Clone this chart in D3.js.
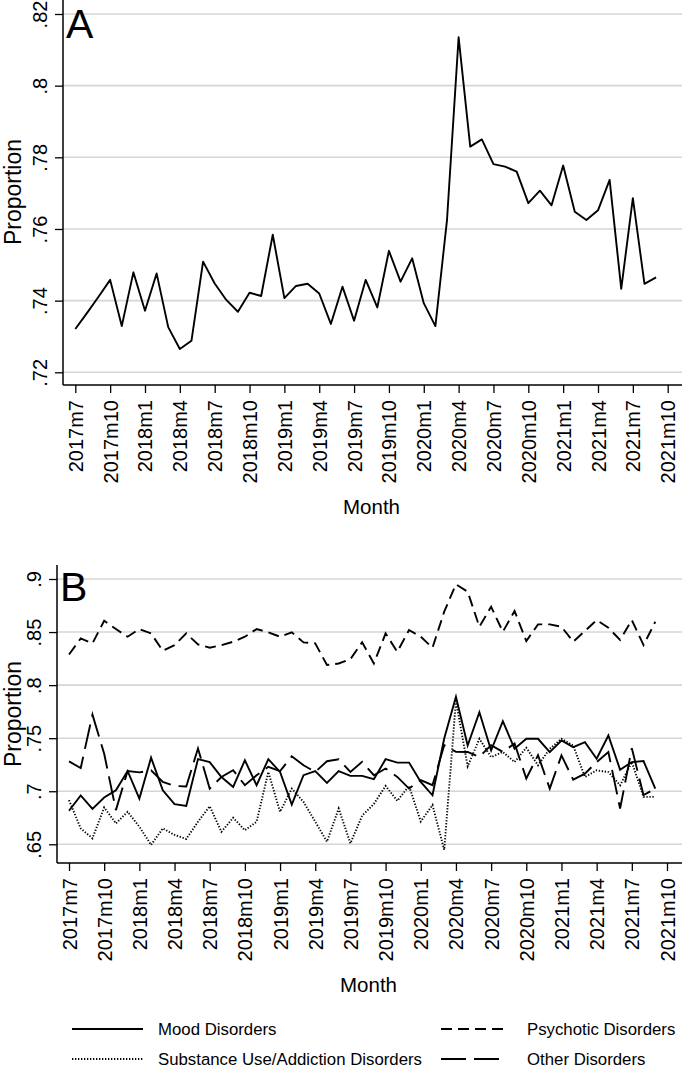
<!DOCTYPE html>
<html>
<head>
<meta charset="utf-8">
<script src="https://cdn.jsdelivr.net/npm/d3@7.9.0/dist/d3.min.js"></script>
<style>
  html, body { margin: 0; padding: 0; background: #fff; }
  svg { display: block; font-family: "Liberation Sans", Arial, sans-serif; }
</style>
</head>
<body>
<svg id="chart" width="682" height="1069"></svg>
<script>
// month index 0 = 2017m7 ... 50 = 2021m9
const tickLabels = ["2017m7", "2017m10", "2018m1", "2018m4", "2018m7", "2018m10",
  "2019m1", "2019m4", "2019m7", "2019m10", "2020m1", "2020m4", "2020m7", "2020m10",
  "2021m1", "2021m4", "2021m7", "2021m10"];

const ticksA = [0.72, 0.74, 0.76, 0.78, 0.8, 0.82];
const ticksB = [0.65, 0.7, 0.75, 0.8, 0.85, 0.9];

const overall = [0.7321, 0.7365, 0.7411, 0.7458, 0.7329, 0.7479, 0.7372, 0.7476, 0.7326, 0.7265,
  0.7288, 0.7509, 0.7448, 0.7402, 0.7369, 0.7422, 0.7413, 0.7584, 0.7407, 0.7441,
  0.7447, 0.7420, 0.7335, 0.7439, 0.7344, 0.7458, 0.7381, 0.7539, 0.7453, 0.7518,
  0.7393, 0.7329, 0.7625, 0.8135, 0.7830, 0.7850, 0.7781, 0.7774, 0.7760, 0.7672,
  0.7707, 0.7666, 0.7777, 0.7648, 0.7625, 0.7652, 0.7737, 0.7433, 0.7686, 0.7447, 0.7465];

const mood = [0.6816, 0.6960, 0.6834, 0.6941, 0.7009, 0.7191, 0.6931, 0.7316, 0.7009, 0.6878,
  0.6862, 0.7302, 0.7275, 0.7134, 0.7041, 0.7292, 0.7057, 0.7302, 0.7182, 0.6874,
  0.7151, 0.7189, 0.7079, 0.7189, 0.7145, 0.7145, 0.7113, 0.7302, 0.7270, 0.7270,
  0.7088, 0.6962, 0.7497, 0.7890, 0.7431, 0.7744, 0.7384, 0.7660, 0.7400, 0.7494,
  0.7494, 0.7369, 0.7478, 0.7416, 0.7463, 0.7306, 0.7525, 0.7203, 0.7275, 0.7284, 0.7025];

const psychotic = [0.8289, 0.8440, 0.8393, 0.8607, 0.8528, 0.8456, 0.8528, 0.8487, 0.8324, 0.8377,
  0.8487, 0.8384, 0.8352, 0.8377, 0.8409, 0.8456, 0.8528, 0.8497, 0.8456, 0.8497,
  0.8403, 0.8393, 0.8189, 0.8204, 0.8245, 0.8403, 0.8204, 0.8487, 0.8314, 0.8519,
  0.8456, 0.8352, 0.8692, 0.8950, 0.8880, 0.8550, 0.8739, 0.8503, 0.8698, 0.8415,
  0.8572, 0.8572, 0.8550, 0.8409, 0.8510, 0.8613, 0.8541, 0.8425, 0.8613, 0.8377, 0.8597];

const substance = [0.6916, 0.6650, 0.6556, 0.6847, 0.6697, 0.6806, 0.6666, 0.6494, 0.6650, 0.6588,
  0.6550, 0.6713, 0.6858, 0.6618, 0.6750, 0.6633, 0.6713, 0.7181, 0.6806, 0.7025,
  0.6900, 0.6713, 0.6525, 0.6837, 0.6509, 0.6770, 0.6880, 0.7050, 0.6910, 0.7050,
  0.6715, 0.6870, 0.6447, 0.7850, 0.7235, 0.7494, 0.7322, 0.7370, 0.7275, 0.7410,
  0.7244, 0.7400, 0.7494, 0.7431, 0.7134, 0.7197, 0.7181, 0.7056, 0.7275, 0.6947, 0.6947];

const other = [0.7281, 0.7219, 0.7722, 0.7353, 0.6822, 0.7191, 0.7178, 0.7197, 0.7088, 0.7050,
  0.7045, 0.7403, 0.7025, 0.7134, 0.7198, 0.7057, 0.7150, 0.7230, 0.7189, 0.7330,
  0.7245, 0.7182, 0.7283, 0.7302, 0.7182, 0.7277, 0.7151, 0.7214, 0.7135, 0.7025,
  0.7104, 0.7057, 0.7434, 0.7371, 0.7370, 0.7324, 0.7434, 0.7370, 0.7450, 0.7120,
  0.7340, 0.7025, 0.7338, 0.7109, 0.7166, 0.7275, 0.7369, 0.6837, 0.7405, 0.6963, 0.7025];

const seriesB = [
  { name: "Mood Disorders", values: mood, dash: null },
  { name: "Psychotic Disorders", values: psychotic, dash: "11,6" },
  { name: "Substance Use/Addiction Disorders", values: substance, dash: "1.3,1.7" },
  { name: "Other Disorders", values: other, dash: "25,8" }
];

const svg = d3.select("#chart");
const W = 682;
const fmt = (d) => String(+d.toFixed(2)).replace(/^0/, "");

function drawPanel(opts) {
  const { x, y, axisX, axisBottom, top, yTicks, letter, letterY, monthY, titleY } = opts;
  const g = svg.append("g");

  // gridlines
  g.selectAll(".grid")
    .data(yTicks)
    .join("line")
    .attr("x1", axisX).attr("x2", W)
    .attr("y1", (d) => y(d)).attr("y2", (d) => y(d))
    .attr("stroke", "#d6d6d6")
    .attr("stroke-width", 1.6);

  // y axis
  const yAxis = g.append("g")
    .attr("transform", `translate(${axisX},0)`)
    .call(d3.axisLeft(y).tickValues(yTicks).tickFormat(fmt).tickSize(8).tickSizeOuter(0));
  yAxis.select(".domain").remove();
  yAxis.selectAll(".tick line").attr("stroke", "#000").attr("stroke-width", 1.3);
  yAxis.selectAll(".tick text")
    .attr("x", null).attr("dy", null)
    .attr("transform", "translate(-16,0) rotate(-90)")
    .attr("text-anchor", "middle")
    .attr("font-size", 20)
    .attr("font-family", "Liberation Sans, Arial, sans-serif")
    .attr("fill", "#000");

  // x axis
  const xAxis = g.append("g")
    .attr("transform", `translate(0,${axisBottom})`)
    .call(d3.axisBottom(x)
      .tickValues(d3.range(0, 52, 3))
      .tickFormat((d, i) => tickLabels[i])
      .tickSize(8).tickSizeOuter(0));
  xAxis.select(".domain").remove();
  xAxis.selectAll(".tick line").attr("stroke", "#000").attr("stroke-width", 1.3);
  xAxis.selectAll(".tick text")
    .attr("y", null).attr("dy", null)
    .attr("transform", "translate(7,15) rotate(-90)")
    .attr("text-anchor", "end")
    .attr("font-size", 20)
    .attr("font-family", "Liberation Sans, Arial, sans-serif")
    .attr("fill", "#000");

  // axis lines
  g.append("line")
    .attr("x1", axisX).attr("x2", axisX)
    .attr("y1", top).attr("y2", axisBottom)
    .attr("stroke", "#000").attr("stroke-width", 1.5);
  g.append("line")
    .attr("x1", axisX).attr("x2", W)
    .attr("y1", axisBottom).attr("y2", axisBottom)
    .attr("stroke", "#000").attr("stroke-width", 1.5);

  g.append("text")
    .attr("transform", `translate(21,${titleY}) rotate(-90)`)
    .attr("text-anchor", "middle")
    .attr("font-size", 23)
    .text("Proportion");

  g.append("text")
    .attr("x", (axisX + W) / 2 - 1)
    .attr("y", monthY)
    .attr("text-anchor", "middle")
    .attr("font-size", 20.5)
    .text("Month");

  g.append("text")
    .attr("x", axisX + 3)
    .attr("y", letterY)
    .attr("font-size", 41)
    .text(letter);

  return g;
}

// panel A
const xA = d3.scaleLinear().domain([0, 51]).range([75.3, 667.7]);
const yA = d3.scaleLinear().domain([0.72, 0.82]).range([372.3, 14]);
const gA = drawPanel({
  x: xA, y: yA, axisX: 63, axisBottom: 385, top: 0, yTicks: ticksA,
  letter: "A", letterY: 38, monthY: 514, titleY: 192
});
gA.append("path")
  .datum(overall)
  .attr("fill", "none")
  .attr("stroke", "#000")
  .attr("stroke-width", 1.9)
  .attr("stroke-linejoin", "round")
  .attr("d", d3.line().x((d, i) => xA(i)).y((d) => yA(d)));

// panel B
const xB = d3.scaleLinear().domain([0, 51]).range([69, 667]);
const yB = d3.scaleLinear().domain([0.65, 0.9]).range([844.3, 579]);
const gB = drawPanel({
  x: xB, y: yB, axisX: 57, axisBottom: 863, top: 565, yTicks: ticksB,
  letter: "B", letterY: 601, monthY: 992, titleY: 714
});

const lineB = d3.line().x((d, i) => xB(i)).y((d) => yB(d));
gB.selectAll(".series")
  .data(seriesB)
  .join("path")
  .attr("fill", "none")
  .attr("stroke", "#000")
  .attr("stroke-width", 1.9)
  .attr("stroke-dasharray", (d) => d.dash)
  .attr("d", (d) => lineB(d.values));

// legend
const legendPos = [[72, 1029], [441, 1029], [72, 1059], [441, 1059]];
const legend = svg.append("g");
seriesB.forEach((s, i) => {
  const [lx, ly] = legendPos[i];
  legend.append("line")
    .attr("x1", lx).attr("x2", lx + (i % 2 ? 64 : 71))
    .attr("y1", ly).attr("y2", ly)
    .attr("stroke", "#000")
    .attr("stroke-width", 1.9)
    .attr("stroke-dasharray", s.dash);
  legend.append("text")
    .attr("x", lx + 86)
    .attr("y", ly + 6)
    .attr("font-size", 16.8)
    .text(s.name);
});
</script>
</body>
</html>
